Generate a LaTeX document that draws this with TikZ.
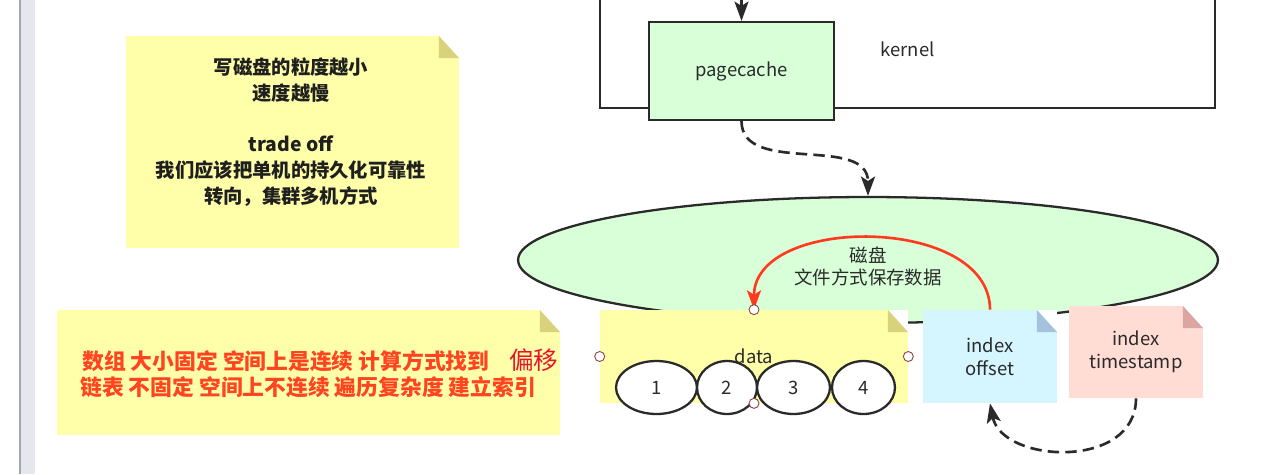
\documentclass[tikz,border=0pt]{standalone}
\usepackage{fontspec}
\setmainfont{Noto Sans CJK SC}
\usetikzlibrary{shapes.geometric,arrows.meta}
\definecolor{notey}{HTML}{FFFFA9}
\definecolor{foldy}{HTML}{D9D27C}
\definecolor{diskg}{HTML}{D9FFD9}
\definecolor{noteb}{HTML}{D5F5FF}
\definecolor{foldb}{HTML}{A5C1DD}
\definecolor{notep}{HTML}{FFDCD4}
\definecolor{foldp}{HTML}{DBA5A1}
\definecolor{arrred}{HTML}{FF3A1E}
\definecolor{txtred}{HTML}{FF4422}
\definecolor{offred}{HTML}{E8142C}
\definecolor{edge}{HTML}{2A2A2A}
\definecolor{lavbar}{HTML}{E6E6EF}
\definecolor{handlered}{HTML}{8E4040}
\tikzset{
  sticky/.style 2 args={fill=#1,inner sep=0pt,
    path picture={
      \fill[white] ([xshift=-0.4cm]path picture bounding box.north east) -- (path picture bounding box.north east)
        -- ([yshift=-0.44cm]path picture bounding box.north east) -- cycle;
      \fill[#2] ([xshift=-0.4cm]path picture bounding box.north east) -- ([xshift=-0.4cm,yshift=-0.44cm]path picture bounding box.north east)
        -- ([yshift=-0.44cm]path picture bounding box.north east) -- cycle;
    }},
  boxline/.style={draw=edge,line width=1.3pt},
  cell/.style={ellipse,boxline,fill=white,inner sep=0pt,minimum height=1.06cm},
  tip/.style={-{Stealth[length=11pt,width=8pt,inset=2.5pt]}},
  dashflow/.style={draw=edge,line width=1.5pt,dash pattern=on 6.5pt off 3.5pt,tip},
  handle/.style={draw=handlered,fill=white,line width=0.5pt},
}
\begin{document}
\begin{tikzpicture}[x=0.02cm,y=-0.02cm,font=\fontsize{10.5}{13}\selectfont,text=edge]
  \useasboundingbox (0,0) rectangle (1286,474);
  \clip (0,0) rectangle (1286,474);
  \fill[white] (0,0) rectangle (1286,474);
  \fill[gray!70] (19,0) rectangle (21,474);
  \fill[lavbar] (21,0) rectangle (35,474);

  \node[sticky={notey}{foldy},minimum width=6.66cm,minimum height=4.24cm] (tradeoff) at (292.5,142) {};
  \node[font=\fontsize{11}{14.7}\selectfont\bfseries,align=center,text=black!88] (tradeofftxt) at (291,132)
    {写磁盘的粒度越小\\速度越慢\\[14.7pt]trade off\\我们应该把单机的持久化可靠性\\转向，集群多机方式};

  \node[boxline,minimum width=12.3cm,minimum height=2.36cm] (kernel) at (907.5,49) {kernel};
  \node[boxline,fill=diskg,minimum width=3.7cm,minimum height=1.96cm] (pagecache) at (741.5,71) {pagecache};
  \coordinate (sysin) at (741.5,-10);
  \draw[draw=edge,line width=1.2pt,tip] (sysin) -- (pagecache.north);

  \node[ellipse,boxline,fill=diskg,minimum width=14cm,minimum height=2.52cm] (disk) at (868,260) {};
  \node[align=center,font=\fontsize{10.5}{12.5}\selectfont] (disktxt) at (868,266) {磁盘\\文件方式保存数据};
  \draw[dashflow] (pagecache.south) .. controls +(0,55) and +(0,-62) .. (disk.north);

  \node[sticky={notey}{foldy},minimum width=10.06cm,minimum height=2.5cm] (arraynote) at (308.5,372.5) {};
  \node[anchor=west,inner sep=0pt,font=\fontsize{12.4}{14}\selectfont\bfseries,text=txtred] (arrayline) at (82,360)
    {数组 大小固定 空间上是连续 计算方式找到\hspace{0.9em}{\mdseries\fontsize{14}{14}\selectfont\color{offred}偏移}};
  \node[anchor=west,inner sep=0pt,font=\fontsize{12.4}{14}\selectfont\bfseries,text=txtred] (listline) at (80,387)
    {链表 不固定 空间上不连续 遍历复杂度 建立索引};

  \node[sticky={notey}{foldy},minimum width=6.16cm,minimum height=1.86cm] (data) at (754,356.5) {data};
  \foreach \cx/\cw/\lab [count=\i] in {656.5/1.62/1,727/1.2/2,793.5/1.46/3,863.5/1.26/4}
    \node[cell,minimum width=\cw cm] (cell\i) at (\cx,387.5) {\lab};

  \node[sticky={noteb}{foldb},minimum width=2.68cm,minimum height=1.86cm,align=center] (offset) at (990,356.5) {index\\offset};
  \node[sticky={notep}{foldp},minimum width=2.68cm,minimum height=1.84cm,align=center] (timestamp) at (1136,352) {index\\timestamp};

  \draw[arrred,line width=1.5pt,tip] (offset.north) .. controls +(0,-95) and +(0,-95) .. (data.north);
  \draw[dashflow] (timestamp.south) .. controls +(0,72) and +(12,60) .. (offset.south);

  \foreach \a in {north,west,east,south}
    \draw[handle] (data.\a) circle (0.1cm);
\end{tikzpicture}
\end{document}
